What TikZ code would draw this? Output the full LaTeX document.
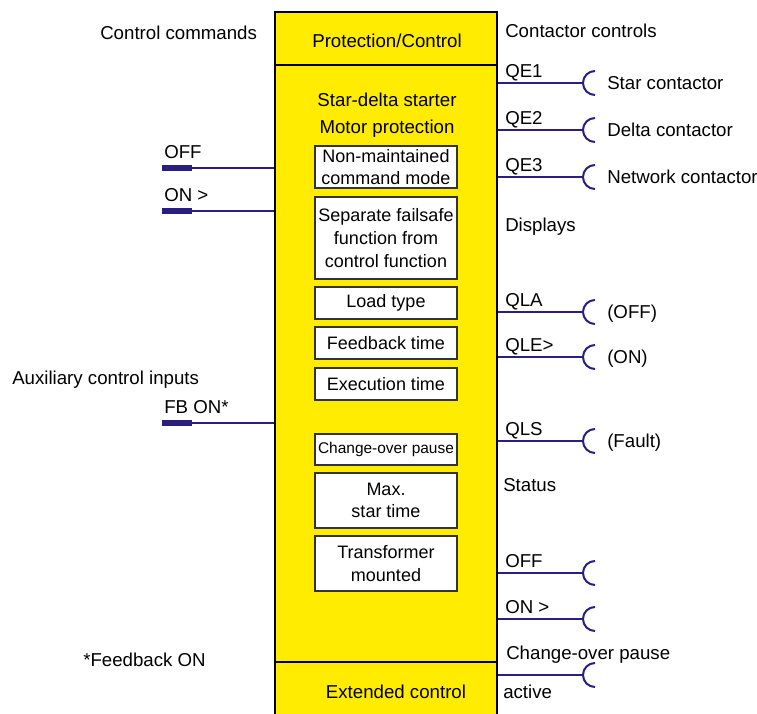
\documentclass[tikz,border=0pt]{standalone}
\usepackage{fontspec}
\setmainfont{Liberation Sans}
\usetikzlibrary{positioning}
\definecolor{relayyellow}{RGB}{255,236,0}
\definecolor{wireblue}{RGB}{42,30,130}
\tikzset{
  lbl/.style={inner sep=0pt, font=\fontsize{14}{17}\selectfont, text height=10pt, text depth=0pt},
  fnbox/.style={draw=black!80, line width=0.9pt, fill=white, inner sep=1pt, align=center,
    minimum width=106.5pt, font=\fontsize{13.5}{17}\selectfont},
  wire/.style={draw=wireblue, line width=1.5pt},
  stub/.style={draw=wireblue, line width=5pt},
}

\begin{document}
\begin{tikzpicture}[x=0.75pt, y=-0.75pt]
  \useasboundingbox (0,0) rectangle (757,714);

  % the function block itself
  \node[draw, line width=1.4pt, fill=relayyellow, minimum width=166.5pt,
        minimum height=528pt, inner sep=0pt] (pc) at (386,364) {};
  \draw[line width=0.8pt] (pc.west |- 0,65) -- (pc.east |- 0,65);
  \draw[line width=0.8pt] (pc.west |- 0,662) -- (pc.east |- 0,662);

  \node[lbl] (prot) at (387,41) {Protection/Control};
  \node[lbl] (sds) at (387,100) {Star-delta starter};
  \node[lbl] (mprot) at (387,127) {Motor protection};
  \node[lbl] (ext) at (396,692) {Extended control};

  % parameter boxes
  \node[fnbox, minimum height=31.5pt] (nonmaint) at (386,167) {Non-maintained\\command mode};
  \node[fnbox, minimum height=61.5pt] (failsafe) at (386,238) {Separate failsafe\\function from\\control function};
  \node[fnbox, minimum height=24pt] (load) at (386,303) {Load type};
  \node[fnbox, minimum height=24pt] (fbtime) at (386,343) {Feedback time};
  \node[fnbox, minimum height=24pt] (extime) at (386,384) {Execution time};
  \node[fnbox, minimum height=23.25pt, font=\fontsize{11.6}{14}\selectfont] (pause) at (386,449.5) {Change-over pause};
  \node[fnbox, minimum height=41.25pt] (startime) at (386,500.5) {Max.\\star time};
  \node[fnbox, minimum height=41.25pt] (trafo) at (386,563.5) {Transformer\\mounted};

  % inputs
  \node[lbl, anchor=west] (cmds) at (100,33) {Control commands};
  \node[lbl, anchor=west] (aux) at (12,378) {Auxiliary control inputs};
  \node[lbl, anchor=west] (fbnote) at (83,660) {*Feedback ON};
  \foreach \n/\y/\sig in {1/168/OFF, 2/211/ON >, 3/423/FB ON*} {
    \coordinate (in\n) at (162,\y);
    \draw[wire] (in\n) -- (in\n -| pc.west);
    \draw[stub] (in\n) -- ++(30,0);
    \node[lbl, anchor=west, yshift=12pt] (insig\n) at (in\n -| 164,0) {\sig};
  }

  % outputs
  \node[lbl, anchor=west] (contctl) at (505,31) {Contactor controls};
  \node[lbl, anchor=west] (disp) at (505,225) {Displays};
  \node[lbl, anchor=west] (status) at (503,485) {Status};
  \foreach \n/\y in {1/83, 2/130, 3/177, 4/312, 5/357, 6/441, 7/573, 8/619, 9/675} {
    \coordinate (q\n) at (583,\y);
    \draw[wire] (pc.east |- q\n) -- (q\n);
    \draw[wire] (q\n) arc[start angle=180, end angle=90, radius=12]
                (q\n) arc[start angle=180, end angle=270, radius=12];
  }
  \foreach \n/\sig in {1/QE1, 2/QE2, 3/QE3, 4/QLA, 5/QLE>, 6/QLS, 7/OFF, 8/ON >}
    \node[lbl, anchor=west, yshift=9.5pt] (sig\n) at (q\n -| 505,0) {\sig};
  \foreach \n/\dev in {1/Star contactor, 2/Delta contactor, 3/Network contactor,
                       4/(OFF), 5/(ON), 6/(Fault)}
    \node[lbl, anchor=west] (dev\n) at (q\n -| 607,0) {\dev};
  \node[lbl, anchor=west] (pausesig) at (506,653) {Change-over pause};
  \node[lbl, anchor=west] (active) at (503,692) {active};
\end{tikzpicture}
\end{document}
